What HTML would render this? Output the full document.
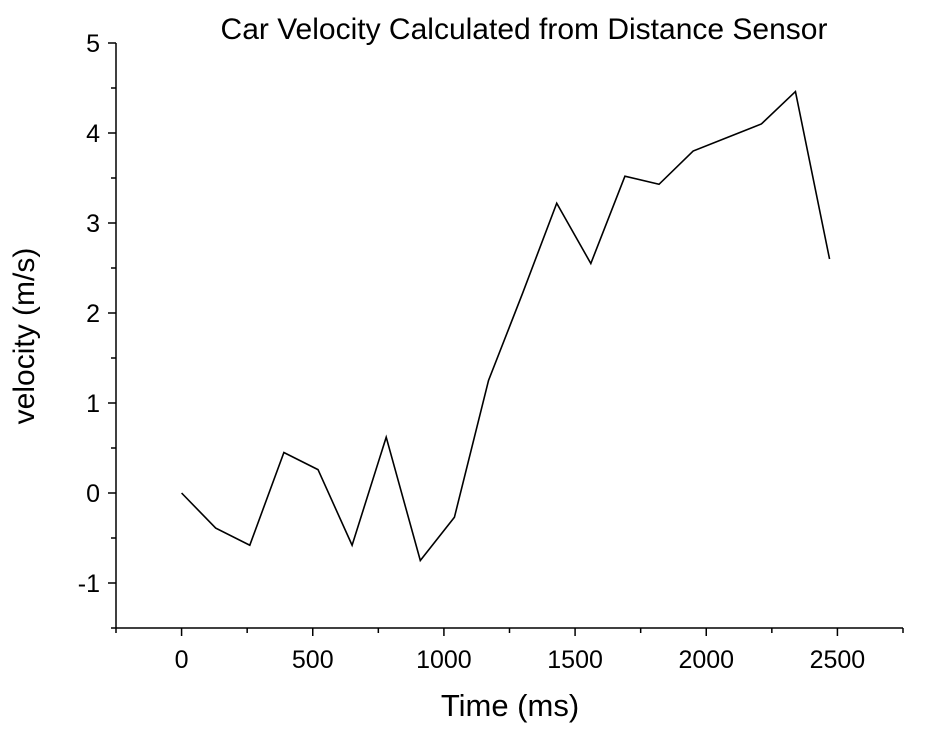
<!DOCTYPE html>
<html><head><meta charset="utf-8"><style>
body{margin:0;background:#fff;}
svg text{font-family:"Liberation Sans",Arial,sans-serif;fill:#000;}
</style></head><body>
<svg width="929" height="726" viewBox="0 0 929 726" id="chart">
<text x="524" y="39" font-size="30" text-anchor="middle">Car Velocity Calculated from Distance Sensor</text>
<text x="510" y="716" font-size="31" text-anchor="middle">Time (ms)</text>
<text transform="translate(34,336) rotate(-90)" font-size="30" text-anchor="middle">velocity (m/s)</text>
<g id="axes"></g>
<polyline id="line" fill="none" stroke="#000" stroke-width="1.6"/>
</svg>
<script>
const times=[0,130,260,390,520,650,780,910,1040,1170,1300,1430,1560,1690,1820,1950,2080,2210,2340,2470];
const velocities=[0,-0.39,-0.58,0.45,0.26,-0.58,0.62,-0.75,-0.27,1.25,2.22,3.22,2.55,3.52,3.43,3.8,3.95,4.1,4.46,2.6];
const xTicks=[0,500,1000,1500,2000,2500];
const yTicks=[-1,0,1,2,3,4,5];
const xMin=-250,xMax=2750,yMin=-1.5,yMax=5;
const L=116,R=903,T=43,B=628;
const sx=v=>L+(v-xMin)/(xMax-xMin)*(R-L);
const sy=v=>B-(v-yMin)/(yMax-yMin)*(B-T);
const ns="http://www.w3.org/2000/svg";
const g=document.getElementById('axes');
function line(x1,y1,x2,y2,name){const l=document.createElementNS(ns,'line');
l.setAttribute('x1',x1);l.setAttribute('y1',y1);l.setAttribute('x2',x2);l.setAttribute('y2',y2);
l.setAttribute('stroke','#000');l.setAttribute('stroke-width','1.5');


g.appendChild(l);}
function text(x,y,s,anchor,name){const t=document.createElementNS(ns,'text');
t.setAttribute('x',x);t.setAttribute('y',y);t.setAttribute('font-size','25');t.setAttribute('text-anchor',anchor);t.textContent=s;


g.appendChild(t);}
line(L,T,L,B,'y-axis');line(L,B,R,B,'x-axis');
for(let v=xMin;v<=xMax;v+=250){const major=v%500===0;line(sx(v),B,sx(v),B+(major?8:5),'x-tick');}
for(let v=yMin;v<=yMax;v+=0.5){const major=Number.isInteger(v);line(L,sy(v),L-(major?8:5),sy(v),'y-tick');}
xTicks.forEach(v=>text(sx(v),668,String(v),'middle','x-tick-label'));
yTicks.forEach(v=>text(L-16,sy(v)+9,String(v),'end','y-tick-label'));
document.getElementById('line').setAttribute('points',times.map((t,i)=>sx(t)+','+sy(velocities[i])).join(' '));
</script>
</body></html>
